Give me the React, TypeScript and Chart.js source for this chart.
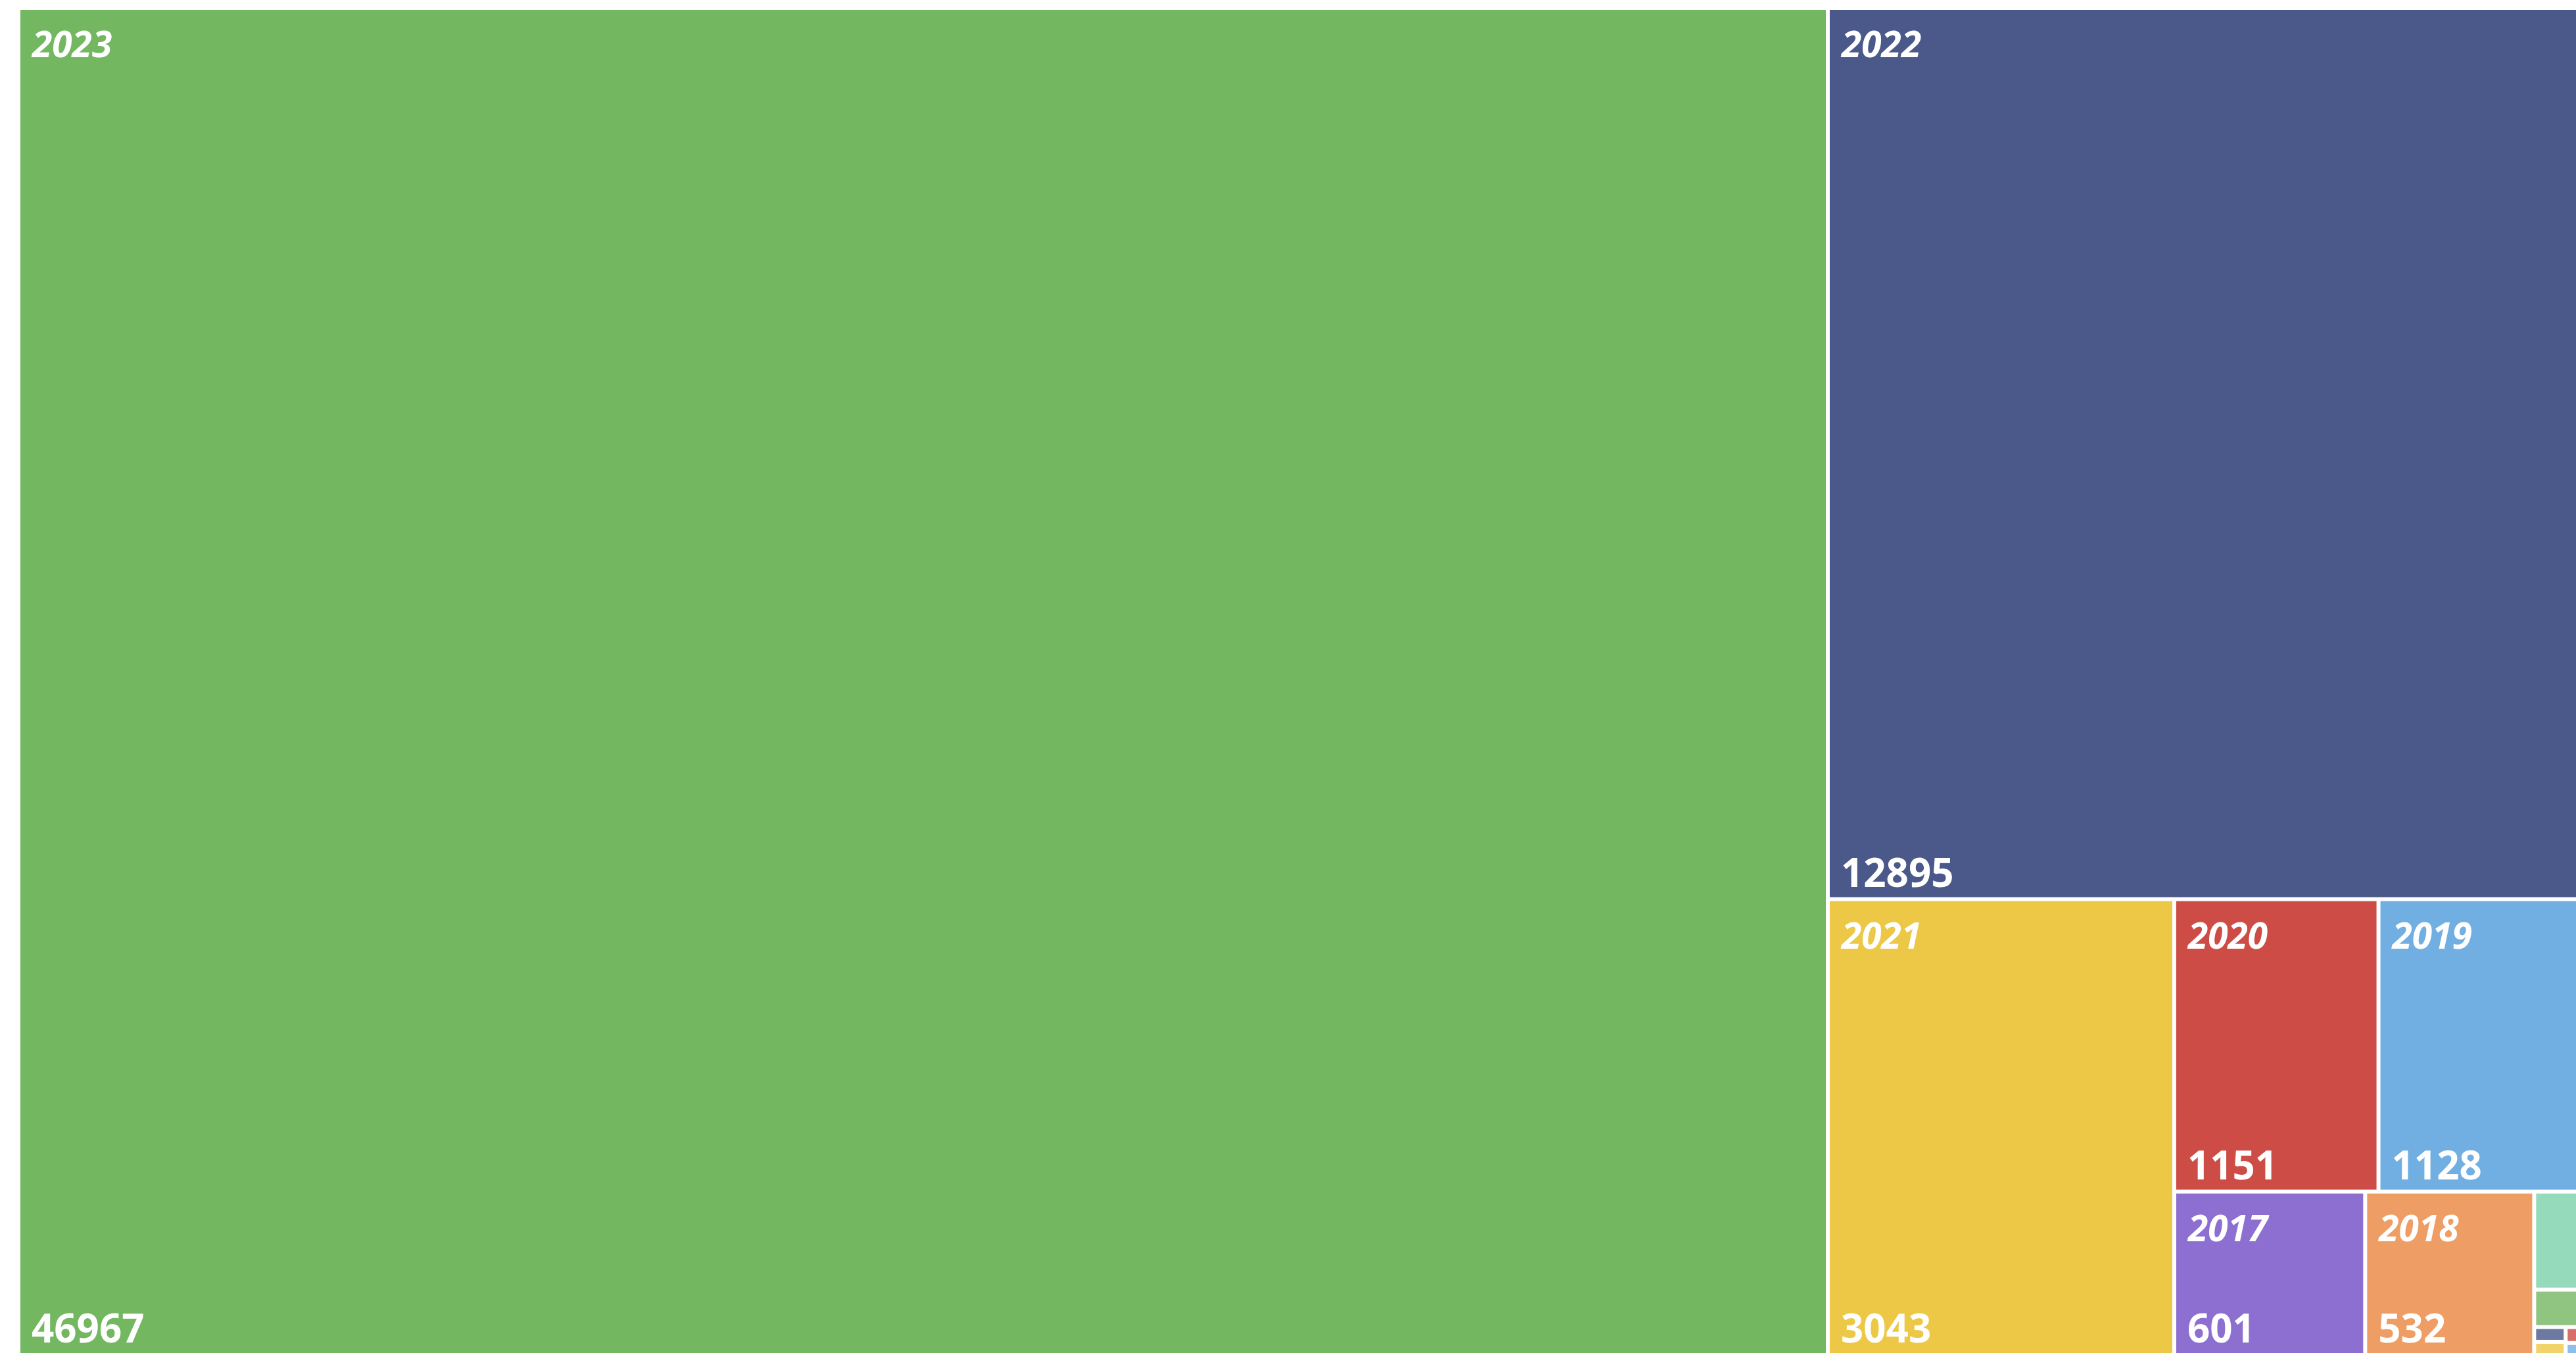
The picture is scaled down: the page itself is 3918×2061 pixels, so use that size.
import React, { useEffect, useRef } from "react";
import { Chart, registerables } from "chart.js";

Chart.register(...registerables);

// Data (sorted by value, descending)
const categories = ["2023", "2022", "2021", "2020", "2019", "2017", "2018", "2016", "2015", "2014", "2013", "2012", "2011"];
const values = [46967, 12895, 3043, 1151, 1128, 601, 532, 84, 32, 9, 8, 4, 3];
const colors = [
  "#73B761", "#4A588A", "#ECC846", "#CD4C46", "#71AFE2", "#8D6FD1", "#EE9E64", "#95DABB",
  "#8FC581", "#6E79A1", "#F0D36B", "#D7706B", "#8DBFE8",
];

type Rect = { x: number; y: number; w: number; h: number };

// squarified layout with golden-ratio target (d3-style)
function squarify(vals: number[], X0: number, Y0: number, X1: number, Y1: number): Rect[] {
  const ratio = (1 + Math.sqrt(5)) / 2;
  const rects: Rect[] = [];
  let x0 = X0, y0 = Y0, x1 = X1, y1 = Y1;
  let value = vals.reduce((a, b) => a + b, 0);
  const n = vals.length;
  let i0 = 0, i1 = 0;
  while (i0 < n) {
    const dx = x1 - x0, dy = y1 - y0;
    let sumValue = vals[i1++];
    let minValue = sumValue, maxValue = sumValue;
    const alpha = Math.max(dy / dx, dx / dy) / (value * ratio);
    let beta = sumValue * sumValue * alpha;
    let minRatio = Math.max(maxValue / beta, beta / minValue);
    for (; i1 < n; ++i1) {
      const nv = vals[i1];
      sumValue += nv;
      if (nv < minValue) minValue = nv;
      if (nv > maxValue) maxValue = nv;
      beta = sumValue * sumValue * alpha;
      const newRatio = Math.max(maxValue / beta, beta / minValue);
      if (newRatio > minRatio) {
        sumValue -= nv;
        break;
      }
      minRatio = newRatio;
    }
    const row = vals.slice(i0, i1);
    if (dx < dy) {
      const ny = y0 + (dy * sumValue) / value;
      let cx = x0;
      for (const v of row) {
        const w = (dx * v) / sumValue;
        rects.push({ x: cx, y: y0, w, h: ny - y0 });
        cx += w;
      }
      y0 = ny;
    } else {
      const nx = x0 + (dx * sumValue) / value;
      let cy = y0;
      for (const v of row) {
        const h = (dy * v) / sumValue;
        rects.push({ x: x0, y: cy, w: nx - x0, h });
        cy += h;
      }
      x0 = nx;
    }
    value -= sumValue;
    i0 = i1;
  }
  return rects;
}

const LABEL_FONT = "italic bold 55px 'Open Sans', 'Noto Sans', sans-serif";
const VALUE_FONT = "bold 60px 'Open Sans', 'Noto Sans', sans-serif";

const treemapPlugin = {
  id: "treemapCells",
  afterDatasetsDraw(chart: any) {
    const { ctx, chartArea } = chart;
    const xs = chart.scales.x;
    const ys = chart.scales.y;
    const W = chartArea.right - chartArea.left;
    const H = chartArea.bottom - chartArea.top;
    const rects = squarify(values, 0, 0, W, H);
    const gap = 3;
    ctx.save();
    rects.forEach((r, i) => {
      const x0 = xs.getPixelForValue(r.x / W);
      const x1 = xs.getPixelForValue((r.x + r.w) / W);
      const y0 = ys.getPixelForValue(r.y / H);
      const y1 = ys.getPixelForValue((r.y + r.h) / H);
      const left = Math.min(x0, x1) + gap;
      const right = Math.max(x0, x1) - gap;
      const top = Math.min(y0, y1) + gap;
      const bottom = Math.max(y0, y1) - gap;
      if (right <= left || bottom <= top) return;
      ctx.fillStyle = colors[i % colors.length];
      ctx.fillRect(left, top, right - left, bottom - top);

      const cw = right - left;
      const ch = bottom - top;
      ctx.fillStyle = "#FFFFFF";
      ctx.textAlign = "left";
      ctx.textBaseline = "alphabetic";
      ctx.font = LABEL_FONT;
      const lw = ctx.measureText(categories[i]).width;
      ctx.font = VALUE_FONT;
      const vw = ctx.measureText(String(values[i])).width;
      if (cw > Math.max(lw, vw) + 30 && ch > 150) {
        ctx.font = LABEL_FONT;
        ctx.fillText(categories[i], left + 18, top + 72);
        ctx.font = VALUE_FONT;
        ctx.fillText(String(values[i]), left + 17, bottom - 16);
      }
    });
    ctx.restore();
  },
};

export default function App() {
  const ref = useRef<HTMLCanvasElement | null>(null);
  useEffect(() => {
    if (!ref.current) return;
    const chart = new Chart(ref.current, {
      type: "scatter",
      data: {
        datasets: [
          {
            data: categories.map(() => ({ x: 0.5, y: 0.5 })),
            pointRadius: 0,
            pointHoverRadius: 0,
            showLine: false,
          },
        ],
      },
      options: {
        animation: false,
        responsive: false,
        devicePixelRatio: 1,
        events: [],
        layout: { padding: { left: 28, top: 12, right: 18, bottom: 0 } },
        scales: {
          x: { type: "linear", min: 0, max: 1, display: false },
          y: { type: "linear", min: 0, max: 1, reverse: true, display: false },
        },
        plugins: { legend: { display: false }, tooltip: { enabled: false } },
      },
      plugins: [treemapPlugin],
    });
    return () => chart.destroy();
  }, []);
  return (
    <div style={{ position: "fixed", left: 0, top: 0, width: "100vw", height: "100vh", overflow: "hidden", background: "#fff" }}>
      <canvas ref={ref} width={3940} height={2061} style={{ display: "block" }} />
    </div>
  );
}
